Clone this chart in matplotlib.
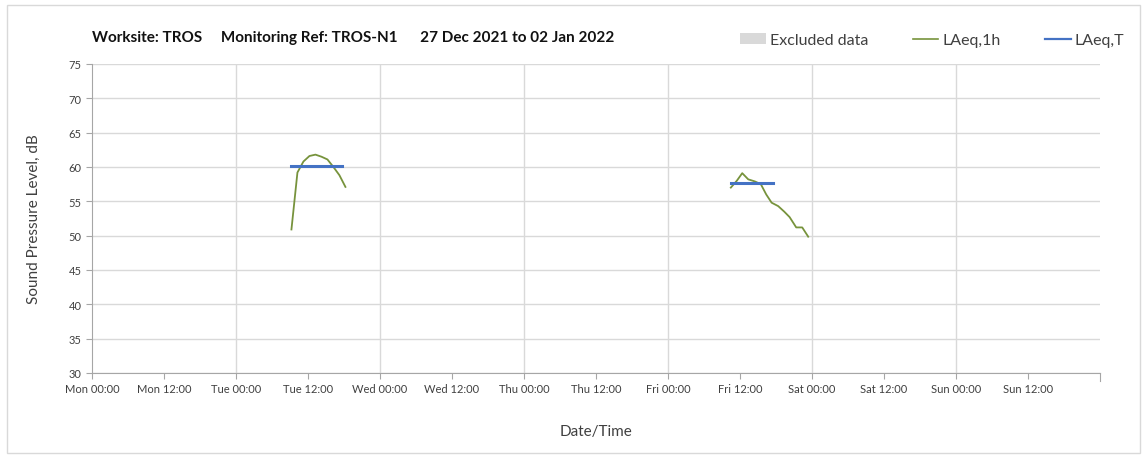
import numpy as np
import matplotlib
matplotlib.use('Agg')
import matplotlib.pyplot as plt
from matplotlib.patches import Patch, Rectangle
from matplotlib.lines import Line2D

plt.rcParams['font.family'] = ['Lato', 'DejaVu Sans']

# hours since Mon 00:00 (27 Dec 2021)
tue_hours = [33.25, 34.25, 35.25, 36.25, 37.25, 38.25, 39.25, 40.25, 41.25, 42.25]
tue_laeq1h = [50.9, 59.2, 60.8, 61.6, 61.8, 61.5, 61.1, 60.0, 58.8, 57.1]
fri_hours = [106.5, 107.5, 108.4, 109.4, 110.5, 111.5, 112.4, 113.3, 114.4, 115.4,
             116.3, 117.4, 118.4, 119.4]
fri_laeq1h = [57.0, 58.0, 59.1, 58.2, 57.9, 57.5, 56.0, 54.8, 54.3, 53.5,
              52.7, 51.2, 51.2, 49.85]

# LAeq,T periods: (start hour, end hour, level)
laeqT_start = [33.2, 106.5]
laeqT_end = [41.6, 113.6]
laeqT_level = [60.2, 57.6]

excluded_periods = []  # none this week

tick_labels = ['Mon 00:00', 'Mon 12:00', 'Tue 00:00', 'Tue 12:00', 'Wed 00:00',
               'Wed 12:00', 'Thu 00:00', 'Thu 12:00', 'Fri 00:00', 'Fri 12:00',
               'Sat 00:00', 'Sat 12:00', 'Sun 00:00', 'Sun 12:00']

green = '#77933C'
blue = '#4472C4'
grid_col = '#D9D9D9'
axis_col = '#A6A6A6'

fig = plt.figure(figsize=(11.47, 4.6), dpi=100)
ax = fig.add_axes([0.0802, 0.187, 0.8786, 0.6717])

for s, e in excluded_periods:
    ax.axvspan(s, e, color='#D9D9D9', lw=0)

ax.plot(tue_hours, tue_laeq1h, color=green, lw=1.3)
ax.plot(fri_hours, fri_laeq1h, color=green, lw=1.3)
for s, e, v in zip(laeqT_start, laeqT_end, laeqT_level):
    ax.plot([s, e], [v, v], color=blue, lw=2.2)

ax.set_xlim(0, 168)
ax.set_ylim(30, 75)
ax.set_yticks(np.arange(30, 76, 5))
ax.set_xticks(np.arange(0, 168, 12))
ax.set_xticklabels(tick_labels, fontsize=8, color='#404040')
ax.tick_params(axis='y', labelsize=8, labelcolor='#404040', length=4, color=axis_col)
ax.tick_params(axis='x', length=4, color=axis_col, pad=3)

ax.grid(axis='y', color=grid_col, lw=1)
for d in range(24, 168, 24):
    ax.axvline(d, color=grid_col, lw=1, zorder=0)
ax.set_axisbelow(True)

ax.spines['top'].set_visible(False)
for sp in ['left', 'bottom', 'right']:
    ax.spines[sp].set_color(axis_col)
ax.spines['right'].set_bounds(28.8, 30)

ax.set_ylabel('Sound Pressure Level, dB', fontsize=11, color='#404040', labelpad=20)
ax.set_xlabel('Date/Time', fontsize=11, color='#404040', labelpad=22)

fig.text(0.0802, 0.917, 'Worksite: TROS     Monitoring Ref: TROS-N1      27 Dec 2021 to 02 Jan 2022',
         fontsize=11, fontweight='bold', color='#111111', va='center')

handles = [Patch(facecolor='#D9D9D9', edgecolor='none'),
           Line2D([0], [0], color=green, lw=1.2),
           Line2D([0], [0], color=blue, lw=1.6)]
fig.legend(handles, ['Excluded data', 'LAeq,1h', 'LAeq,T'], ncol=3, frameon=False,
           loc='center right', bbox_to_anchor=(0.993, 0.91), fontsize=11.5,
           handlelength=1.6, handletextpad=0.25, columnspacing=2.8,
           labelcolor='#404040')

fig.patches.append(Rectangle((0.006, 0.012), 0.988, 0.976, transform=fig.transFigure,
                             fill=False, edgecolor='#D9D9D9', lw=1))

fig.savefig('out.png', dpi=100)
